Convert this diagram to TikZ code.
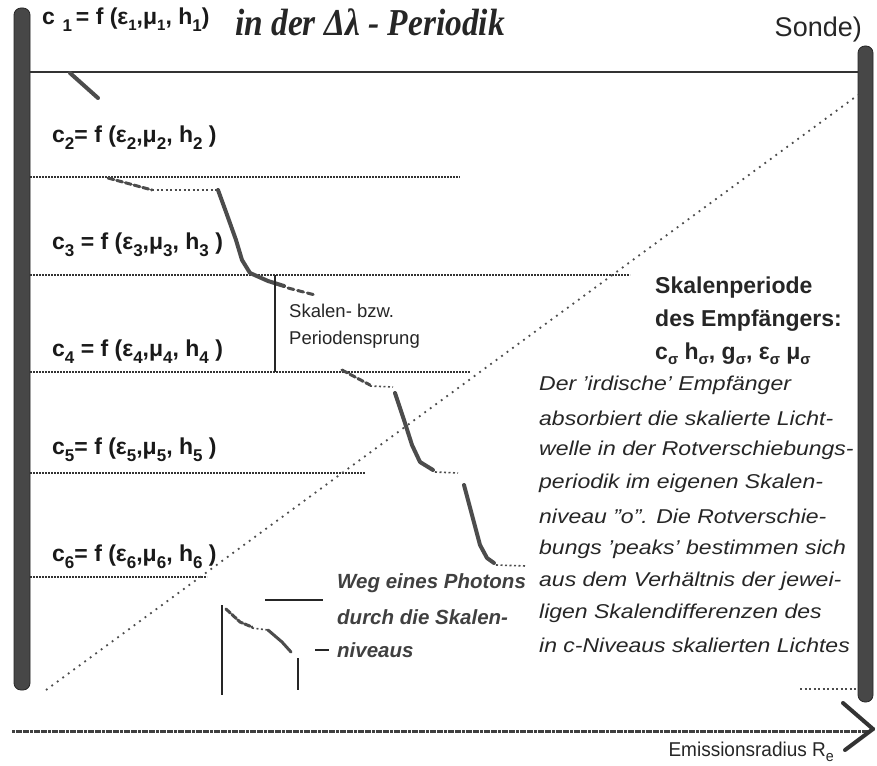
\documentclass[tikz,border=0pt]{standalone}
\usepackage{fontspec}
\setmainfont{Liberation Sans}
\newfontfamily\serifbi{Liberation Serif}
\usetikzlibrary{arrows.meta}
\newcommand\lo[1]{\raisebox{-0.55ex}{\fontsize{17}{17}\selectfont #1}}
\newcommand\loe[1]{\raisebox{-0.45ex}{\fontsize{15}{15}\selectfont #1}}
\newcommand\los[1]{\raisebox{-0.4ex}{\fontsize{15}{15}\selectfont #1}}
\begin{document}
\begin{tikzpicture}[x=1pt,y=-1pt,
  bar/.style={fill=black!72, draw=black!85, line width=0.8pt, rounded corners=7pt},
  level/.style={draw=black!80, line width=1.8pt, dash pattern=on 2pt off 1pt},
  diag/.style={draw=black!70, line width=1.8pt, dash pattern=on 1.8pt off 5pt},
  photon/.style={draw=black!70, line width=4pt, line cap=round, line join=round},
  trail/.style={draw=black!70, line width=1.6pt, dash pattern=on 2pt off 2.5pt},
  clabel/.style={anchor=west, inner sep=0pt, font=\fontsize{23}{24}\selectfont\bfseries, text=black!90},
  small/.style={anchor=west, inner sep=0pt, font=\fontsize{18.5}{19}\selectfont, text=black!85},
  boldr/.style={anchor=west, inner sep=0pt, font=\fontsize{23}{24}\selectfont\bfseries, text=black!85},
  itx/.style={anchor=west, inner sep=0pt, font=\fontsize{20}{21}\selectfont\itshape, text=black!85},
  legtx/.style={anchor=west, inner sep=0pt, font=\fontsize{20.5}{21}\selectfont\bfseries\itshape, text=black!75}
]
\useasboundingbox (0,0) rectangle (877,765);
\fill[white] (0,0) rectangle (877,765);

% side bars
\draw[bar] (14,8) rectangle (30,690);
\draw[bar] (858,46) rectangle (873,702);

% top solid line and level lines
\coordinate (tl) at (30,72);  \coordinate (tr) at (858,72);
\draw[draw=black!80, line width=2.4pt] (tl) -- (tr);
\coordinate (l2a) at (30,177); \coordinate (l2b) at (460,177);
\coordinate (l3a) at (30,275); \coordinate (l3b) at (630,275);
\coordinate (l4a) at (30,372); \coordinate (l4b) at (470,372);
\coordinate (l5a) at (30,473); \coordinate (l5b) at (365,473);
\coordinate (l6a) at (30,577); \coordinate (l6b) at (207,577);
\draw[level] (l2a) -- (l2b);
\draw[level] (l3a) -- (l3b);
\draw[level] (l4a) -- (l4b);
\draw[level] (l5a) -- (l5b);
\draw[level] (l6a) -- (l6b);
\coordinate (l0a) at (800,689); \coordinate (l0b) at (858,689);
\draw[trail] (l0a) -- (l0b);

% diagonal
\coordinate (d1) at (46,690); \coordinate (d2) at (858,95);
\draw[diag] (d1) -- (d2);

% photon path
\draw[photon] (70,73) -- (98,98);
\draw[photon, line width=3pt, dash pattern=on 6pt off 3pt] (108,178) -- (152,190);
\draw[trail] (152,190) -- (216,190);
\draw[photon] (218,190) -- (226,212) -- (236,240) -- (242,260) -- (250,273) -- (268,281) -- (284,286);
\draw[photon, line width=3pt, dash pattern=on 6pt off 4pt] (288,288) -- (315,295);
\draw[photon, line width=3pt, dash pattern=on 6pt off 3pt] (342,370) -- (370,385);
\draw[trail] (370,386) -- (393,387);
\draw[photon] (395,393) -- (404,420) -- (412,445) -- (420,462) -- (433,470);
\draw[trail] (435,472) -- (458,473);
\draw[photon] (464,485) -- (472,515) -- (480,545) -- (487,558) -- (494,563);
\draw[trail] (496,565) -- (526,566);

% Skalensprung marker
\coordinate (sj1) at (275,275); \coordinate (sj2) at (275,372);
\draw[draw=black!85, line width=2pt] (sj1) -- (sj2);
\node[small] (sk1) at (289,311) {Skalen- bzw.};
\node[small] (sk2) at (289,340) {Periodensprung};

% labels
\node[clabel] (c1) at (42,20) {c\,\,\lo{1}\,= f (ε\loe{1},μ\loe{1}, h\lo{1})};
\node[clabel] (c2) at (52,138) {c\lo{2}= f (ε\lo{2},μ\lo{2}, h\lo{2} )};
\node[clabel] (c3) at (52,245) {c\lo{3} = f (ε\lo{3},μ\lo{3}, h\lo{3} )};
\node[clabel] (c4) at (52,352) {c\lo{4} = f (ε\lo{4},μ\lo{4}, h\lo{4} )};
\node[clabel] (c5) at (52,450) {c\lo{5}= f (ε\lo{5},μ\lo{5}, h\lo{5} )};
\node[clabel] (c6) at (52,557) {c\lo{6}= f (ε\lo{6},μ\lo{6}, h\lo{6} )};

% title
\node[inner sep=0pt, text=black!85] (title) at (370,22) {\scalebox{0.88}[1]{\serifbi\bfseries\itshape\fontsize{38}{38}\selectfont in der Δλ - Periodik}};
\node[anchor=east, inner sep=0pt, font=\fontsize{27}{27}\selectfont, text=black!85] (sonde) at (862,30) {Sonde)};

% right bold
\node[boldr] (r1) at (655,288) {Skalenperiode};
\node[boldr] (r2) at (655,321) {des Empfängers:};
\node[boldr] (r3) at (655,354) {c\los{σ} h\los{σ}, g\los{σ}, ε\los{σ} μ\los{σ}};

% italic paragraph
\node[itx] (p1) at (539,385) {\scalebox{1.15}[1]{Der 'irdische' Empfänger}};
\node[itx] (p2) at (539,418) {\scalebox{1.15}[1]{absorbiert die skalierte Licht-}};
\node[itx] (p3) at (539,450) {\scalebox{1.15}[1]{welle in der Rotverschiebungs-}};
\node[itx] (p4) at (539,483) {\scalebox{1.15}[1]{periodik im eigenen Skalen-}};
\node[itx] (p5) at (539,516) {\scalebox{1.15}[1]{niveau "o". Die Rotverschie-}};
\node[itx] (p6) at (539,549) {\scalebox{1.15}[1]{bungs 'peaks' bestimmen sich}};
\node[itx] (p7) at (539,581) {\scalebox{1.15}[1]{aus dem Verhältnis der jewei-}};
\node[itx] (p8) at (539,613) {\scalebox{1.15}[1]{ligen Skalendifferenzen des}};
\node[itx] (p9) at (539,645) {\scalebox{1.15}[1]{in c-Niveaus skalierten Lichtes}};

% legend
\coordinate (g1) at (222,605); \coordinate (g2) at (222,695);
\draw[draw=black!85, line width=1.4pt] (g1) -- (g2);
\coordinate (g3) at (298,658); \coordinate (g4) at (298,690);
\draw[draw=black!85, line width=1.4pt] (g3) -- (g4);
\coordinate (g5) at (265,600); \coordinate (g6) at (323,600);
\draw[draw=black!85, line width=1.6pt] (g5) -- (g6);
\coordinate (g7) at (315,650); \coordinate (g8) at (329,650);
\draw[draw=black!85, line width=1.6pt] (g7) -- (g8);
\draw[photon, line width=3pt, dash pattern=on 6pt off 2pt] (226,609) -- (240,622) -- (252,627);
\draw[trail] (252,628) -- (268,630);
\draw[photon, line width=3pt] (268,630) -- (282,642) -- (291,652);
\node[legtx] (w1) at (337,583) {Weg eines Photons};
\node[legtx] (w2) at (337,617) {durch die Skalen-};
\node[legtx] (w3) at (337,650) {niveaus};

% axis
\coordinate (ax1) at (12,731); \coordinate (ax2) at (870,731);
\draw[draw=black!75, line width=3pt, dash pattern=on 3pt off 0.6pt] (ax1) -- (ax2);
\coordinate (ah1) at (843,703); \coordinate (ah2) at (873,729); \coordinate (ah3) at (845,750);
\draw[draw=black!80, line width=4pt, line cap=round] (ah1) -- (ah2);
\draw[draw=black!80, line width=4pt, line cap=round] (ah2) -- (ah3);
\node[anchor=east, inner sep=0pt, font=\fontsize{20}{20}\selectfont, text=black!85] (em) at (834,752) {\scalebox{0.95}[1]{Emissionsradius R\loe{e}}};
\end{tikzpicture}
\end{document}
